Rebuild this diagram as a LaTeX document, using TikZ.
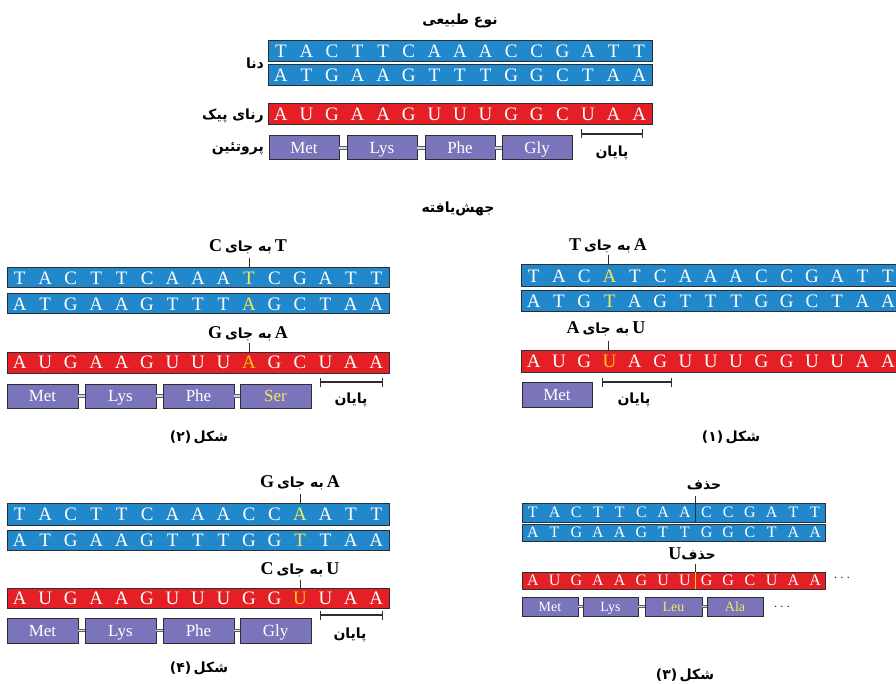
\documentclass[tikz,border=0pt]{standalone}
\usepackage{fontspec}
\setmainfont{Liberation Serif}
\newfontfamily\fa[Script=Arabic]{DejaVu Sans}
\TeXXeTstate=1
\usetikzlibrary{arrows.meta}
\definecolor{dnablue}{RGB}{33,136,204}
\definecolor{rnared}{RGB}{228,32,38}
\definecolor{protfill}{RGB}{122,116,186}
\definecolor{edge}{RGB}{45,45,50}
\definecolor{hlyel}{RGB}{245,232,90}
\definecolor{hlorg}{RGB}{255,196,20}

\newcommand{\FA}[1]{{\fa\bfseries\fontsize{14}{16}\selectfont\beginR #1\endR}}
\newcommand{\FAN}[1]{{\fa\bfseries\fontsize{14}{16}\selectfont #1}}
\newcommand{\hlY}[1]{\textcolor{hlyel}{#1}}
\newcommand{\hlO}[1]{\textcolor{hlorg}{#1}}
\newcommand{\seqfont}{\fontsize{19}{19}\selectfont}
\newcommand{\seqcap}{12.5pt}
\newcommand{\protfont}{\fontsize{17}{17}\selectfont}
\newcommand{\protcap}{11.2pt}

\newcommand{\seqbar}[8]{%
  \node[bar, fill=#7, minimum width={#4*#5}, minimum height=#6] (#1) at (#2,#3) {};
  \foreach \l [count=\i] in {#8}{%
    \node[letter, text=white] at ({#2+(\i-0.5)*#4},{#3+#6/2}) {\l};
  }%
}

\tikzset{
 bar/.style={draw=edge, line width=1pt, inner sep=0pt, outer sep=0pt, anchor=north west},
 letter/.style={inner sep=0pt, text height=\seqcap, text depth=0pt, font=\seqfont},
 prot/.style={draw=edge, fill=protfill, line width=1pt, inner sep=0pt, outer sep=0pt, anchor=north west, text=white, font=\protfont, text height=\protcap, text depth=0pt},
 link/.style={draw=edge!75, double=gray!30, double distance=1.6pt, line width=0.9pt},
 tick/.style={draw=edge, line width=0.8pt},
 endbar/.style={draw=edge, line width=1.1pt, {Bar[width=9pt]}-{Bar[width=9pt]}},
 falabel/.style={inner sep=0pt, text=black},
 mutlabel/.style={inner sep=0pt, text=black, font=\bfseries\fontsize{18}{18}\selectfont},
 dots/.style={inner sep=0pt, text=edge, font=\fontsize{14}{14}\selectfont},
}

\begin{document}
\begin{tikzpicture}[x=1pt,y=-1pt]
\useasboundingbox (0,0) rectangle (896,684);
\fill[white] (0,0) rectangle (896,684);
\clip (0,0) rectangle (896,684);

% ---------------- wild type ----------------
\node[falabel] (title) at (460,21) {\FA{نوع طبیعی}};
\seqbar{d0t}{268}{41}{25.6}{15}{21}{dnablue}{T,A,C,T,T,C,A,A,A,C,C,G,A,T,T}
\seqbar{d0b}{268}{65}{25.6}{15}{21}{dnablue}{A,T,G,A,A,G,T,T,T,G,G,C,T,A,A}
\seqbar{r0}{268}{104}{25.6}{15}{21}{rnared}{A,U,G,A,A,G,U,U,U,G,G,C,U,A,A}
\node[falabel, anchor=east] (ldna) at (264,63) {\FA{دنا}};
\node[falabel, anchor=east] (lrna) at (264,116) {\FA{رنای پیک}};
\node[falabel, anchor=east] (lprot) at (264,149) {\FA{پروتئین}};
\node[prot, minimum width=70, minimum height=24] (p0a) at (269,136) {Met};
\node[prot, minimum width=70, minimum height=24] (p0b) at (347,136) {Lys};
\node[prot, minimum width=70, minimum height=24] (p0c) at (425,136) {Phe};
\node[prot, minimum width=70, minimum height=24] (p0d) at (502,136) {Gly};
\draw[link] (p0a.east) -- (p0b.west);
\draw[link] (p0b.east) -- (p0c.west);
\draw[link] (p0c.east) -- (p0d.west);
\coordinate (e0a) at (581,134);
\coordinate (e0b) at (643,134);
\draw[endbar] (e0a) -- (e0b);
\node[falabel] (end0) at (612,153) {\FA{پایان}};

\node[falabel] (mut) at (458,209) {\FA{جهش‌یافته}};

% ---------------- figure 2 (left middle) ----------------
\node[mutlabel] (l2a) at (248,247) {C\,\FA{به جای}\,T};
\coordinate (k2a) at (249,258);
\seqbar{d2t}{7}{268}{25.47}{15}{20}{dnablue}{T,A,C,T,T,C,A,A,A,\hlY{T},C,G,A,T,T}
\seqbar{d2b}{7}{294}{25.47}{15}{20}{dnablue}{A,T,G,A,A,G,T,T,T,\hlY{A},G,C,T,A,A}
\draw[tick] (k2a) -- (k2a |- d2t.north);
\node[mutlabel] (l2b) at (248,334) {G\,\FA{به جای}\,A};
\coordinate (k2b) at (249,343);
\seqbar{r2}{7}{352}{25.47}{15}{21}{rnared}{A,U,G,A,A,G,U,U,U,\hlO{A},G,C,U,A,A}
\draw[tick] (k2b) -- (k2b |- r2.north);
\node[prot, minimum width=71, minimum height=24] (p2a) at (7,384) {Met};
\node[prot, minimum width=71, minimum height=24] (p2b) at (85,384) {Lys};
\node[prot, minimum width=71, minimum height=24] (p2c) at (163,384) {Phe};
\node[prot, minimum width=71, minimum height=24] (p2d) at (240,384) {\textcolor{hlyel}{Ser}};
\draw[link] (p2a.east) -- (p2b.west);
\draw[link] (p2b.east) -- (p2c.west);
\draw[link] (p2c.east) -- (p2d.west);
\coordinate (e2a) at (320,382);
\coordinate (e2b) at (383,382);
\draw[endbar] (e2a) -- (e2b);
\node[falabel] (end2) at (351,400) {\FA{پایان}};
\node[falabel] (cap2) at (199,437) {\FAN{(۲)}\ \FA{شکل}};

% ---------------- figure 1 (right middle) ----------------
\node[mutlabel] (l1a) at (608,246) {T\,\FA{به جای}\,A};
\coordinate (k1a) at (608,255);
\seqbar{d1t}{521}{265}{25.3}{15}{22}{dnablue}{T,A,C,\hlY{A},T,C,A,A,A,C,C,G,A,T,T}
\seqbar{d1b}{521}{291}{25.3}{15}{21}{dnablue}{A,T,G,\hlY{T},A,G,T,T,T,G,G,C,T,A,A}
\draw[tick] (k1a) -- (k1a |- d1t.north);
\node[mutlabel] (l1b) at (606,329) {A\,\FA{به جای}\,U};
\coordinate (k1b) at (608,341);
\seqbar{r1}{521}{350}{25.3}{15}{22}{rnared}{A,U,G,\hlO{U},A,G,U,U,U,G,G,U,U,A,A}
\draw[tick] (k1b) -- (k1b |- r1.north);
\node[prot, minimum width=70, minimum height=25] (p1a) at (522,382) {Met};
\coordinate (e1a) at (602,382);
\coordinate (e1b) at (672,382);
\draw[endbar] (e1a) -- (e1b);
\node[falabel] (end1) at (634,400) {\FA{پایان}};
\node[falabel] (cap1) at (731,437) {\FAN{(۱)}\ \FA{شکل}};

% ---------------- figure 4 (left bottom) ----------------
\node[mutlabel] (l4a) at (300,483) {G\,\FA{به جای}\,A};
\coordinate (k4a) at (300,494);
\seqbar{d4t}{7}{503}{25.47}{15}{22}{dnablue}{T,A,C,T,T,C,A,A,A,C,C,\hlY{A},A,T,T}
\seqbar{d4b}{7}{530}{25.47}{15}{20}{dnablue}{A,T,G,A,A,G,T,T,T,G,G,\hlY{T},T,A,A}
\draw[tick] (k4a) -- (k4a |- d4t.north);
\node[mutlabel] (l4b) at (300,570) {C\,\FA{به جای}\,U};
\coordinate (k4b) at (300,580);
\seqbar{r4}{7}{588}{25.47}{15}{20}{rnared}{A,U,G,A,A,G,U,U,U,G,G,\hlO{U},U,A,A}
\draw[tick] (k4b) -- (k4b |- r4.north);
\node[prot, minimum width=71, minimum height=25] (p4a) at (7,618) {Met};
\node[prot, minimum width=71, minimum height=25] (p4b) at (85,618) {Lys};
\node[prot, minimum width=71, minimum height=25] (p4c) at (163,618) {Phe};
\node[prot, minimum width=71, minimum height=25] (p4d) at (240,618) {Gly};
\draw[link] (p4a.east) -- (p4b.west);
\draw[link] (p4b.east) -- (p4c.west);
\draw[link] (p4c.east) -- (p4d.west);
\coordinate (e4a) at (320,615);
\coordinate (e4b) at (383,615);
\draw[endbar] (e4a) -- (e4b);
\node[falabel] (end4) at (350,635) {\FA{پایان}};
\node[falabel] (cap4) at (199,668) {\FAN{(۴)}\ \FA{شکل}};

% ---------------- figure 3 (right bottom) ----------------
\begin{scope}
\renewcommand{\seqfont}{\fontsize{16}{16}\selectfont}
\renewcommand{\seqcap}{10.5pt}
\renewcommand{\protfont}{\fontsize{14}{14}\selectfont}
\renewcommand{\protcap}{9.2pt}
\node[falabel] (l3a) at (704,485) {\FA{حذف}};
\coordinate (k3a) at (695.7,496);
\seqbar{d3t}{522}{503}{21.71}{14}{19}{dnablue}{T,A,C,T,T,C,A,A,C,C,G,A,T,T}
\seqbar{d3b}{522}{524}{21.71}{14}{17}{dnablue}{A,T,G,A,A,G,T,T,G,G,C,T,A,A}
\draw[tick] (k3a) -- (k3a |- d3t.south);
\node[mutlabel] (l3b) at (692,554) {U\FA{حذف}};
\coordinate (k3b) at (695.7,564);
\seqbar{r3}{522}{572}{21.71}{14}{17}{rnared}{A,U,G,A,A,G,U,U,G,G,C,U,A,A}
\draw[tick] (k3b) -- (k3b |- r3.north);
\draw[draw=hlorg, line width=1.2pt] (k3b |- r3.north) -- (k3b |- r3.south);
\node[dots] (dots3a) at (842,578) {$\cdots$};
\node[prot, minimum width=56, minimum height=19] (p3a) at (522,597) {Met};
\node[prot, minimum width=55, minimum height=19] (p3b) at (583,597) {Lys};
\node[prot, minimum width=57, minimum height=19] (p3c) at (645,597) {\textcolor{hlyel}{Leu}};
\node[prot, minimum width=56, minimum height=19] (p3d) at (707,597) {\textcolor{hlyel}{Ala}};
\draw[link] (p3a.east) -- (p3b.west);
\draw[link] (p3b.east) -- (p3c.west);
\draw[link] (p3c.east) -- (p3d.west);
\node[dots] (dots3b) at (782,607) {$\cdots$};
\node[falabel] (cap3) at (685,675) {\FAN{(۳)}\ \FA{شکل}};
\end{scope}
\end{tikzpicture}
\end{document}
